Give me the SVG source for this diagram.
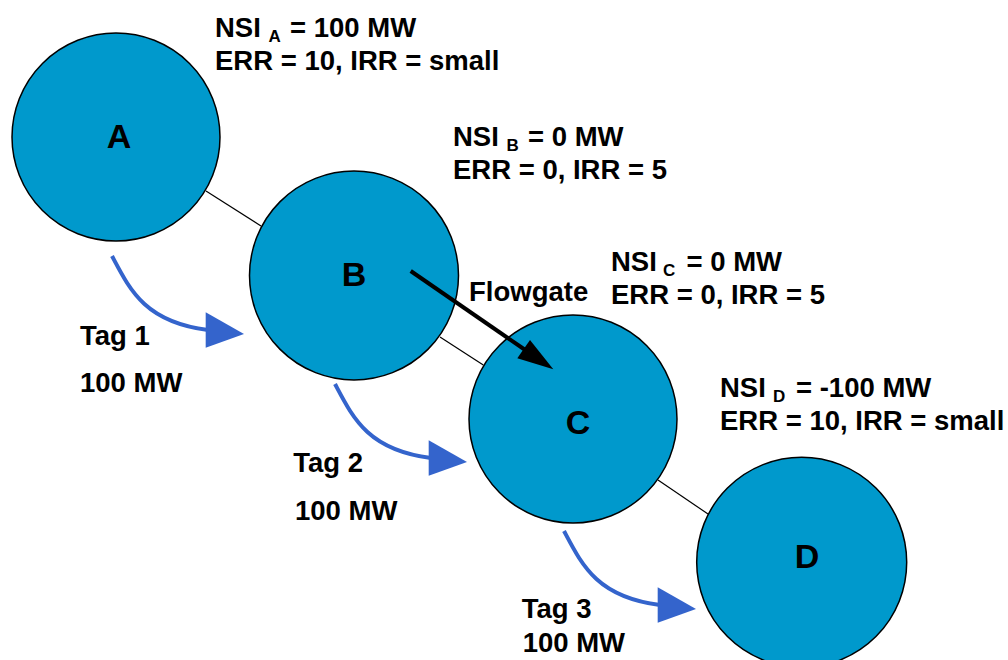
<svg xmlns="http://www.w3.org/2000/svg" xmlns:xlink="http://www.w3.org/1999/xlink" width="1008" height="660" viewBox="0 0 1008 660">
<style>
.node{fill:#0099CC;stroke:#000;stroke-width:1.5}
.lbl{font-family:"Liberation Sans",Arial,sans-serif;font-weight:bold;fill:#000}
.big{font-size:34px;text-anchor:middle}
.txt{font-size:27.5px}
.sub{font-size:17px}
.link{stroke:#000;stroke-width:1.2;fill:none}
.tag{stroke:#3464CC;stroke-width:4;fill:none}
.taghead{fill:#3464CC}
</style>
<defs>
<g id="tagArrow">
<path class="tag" d="M112,256 C130,290 145,322 208,330"/>
<polygon class="taghead" points="244,334 205.7,312.3 205.7,347.7"/>
</g>
</defs>
<rect width="1008" height="660" fill="#fff"/>
<g id="nodeA">
<circle class="node" cx="116" cy="137" r="104"/>
<text class="lbl big" x="119" y="148">A</text>
<text class="lbl txt" x="215" y="36.5"><tspan>NSI</tspan><tspan class="sub" x="268.5" dy="5.5">A</tspan><tspan x="290" dy="-5.5">= 100 MW</tspan></text>
<text class="lbl txt" x="215" y="69.5">ERR = 10, IRR = small</text>
</g>
<g id="nodeB">
<circle class="node" cx="354" cy="275.5" r="104.5"/>
<text class="lbl big" x="354" y="286">B</text>
<text class="lbl txt" x="453" y="145.5"><tspan>NSI</tspan><tspan class="sub" x="506.5" dy="5.5">B</tspan><tspan x="528" dy="-5.5">= 0 MW</tspan></text>
<text class="lbl txt" x="453" y="178.5">ERR = 0, IRR = 5</text>
</g>
<g id="nodeC">
<circle class="node" cx="573" cy="419" r="104"/>
<text class="lbl big" x="578" y="434">C</text>
<text class="lbl txt" x="611" y="270.5"><tspan>NSI</tspan><tspan class="sub" x="663" dy="5.5">C</tspan><tspan x="686.5" dy="-5.5">= 0 MW</tspan></text>
<text class="lbl txt" x="611" y="304">ERR = 0, IRR = 5</text>
</g>
<g id="nodeD">
<circle class="node" cx="801.7" cy="562.3" r="105"/>
<text class="lbl big" x="807" y="567.5">D</text>
<text class="lbl txt" x="720" y="396.8"><tspan>NSI</tspan><tspan class="sub" x="773" dy="5.5">D</tspan><tspan x="796" dy="-5.5">= -100 MW</tspan></text>
<text class="lbl txt" x="720" y="430">ERR = 10, IRR = small</text>
</g>
<g id="connectors">
<line class="link" x1="206" y1="191" x2="261" y2="226"/>
<line class="link" x1="440" y1="337" x2="483.3" y2="365"/>
<line class="link" x1="658" y1="480" x2="708" y2="514"/>
<g id="flowgate">
<line x1="410.7" y1="271" x2="526" y2="350.5" stroke="#000" stroke-width="4"/>
<polygon points="553.3,369.3 517.3,358.3 530,340" fill="#000"/>
<text class="lbl txt" x="469" y="301">Flowgate</text>
</g>
<g id="tag1">
<use xlink:href="#tagArrow"/>
<text class="lbl txt" x="80" y="345">Tag 1</text>
<text class="lbl txt" x="80" y="391.7">100 MW</text>
</g>
<g id="tag2">
<use xlink:href="#tagArrow" transform="translate(223,128)"/>
<text class="lbl txt" x="293.3" y="471.7">Tag 2</text>
<text class="lbl txt" x="295" y="520">100 MW</text>
</g>
<g id="tag3">
<use xlink:href="#tagArrow" transform="translate(452,275)"/>
<text class="lbl txt" x="521.7" y="618.3">Tag 3</text>
<text class="lbl txt" x="522.7" y="652">100 MW</text>
</g>
</g>
</svg>
